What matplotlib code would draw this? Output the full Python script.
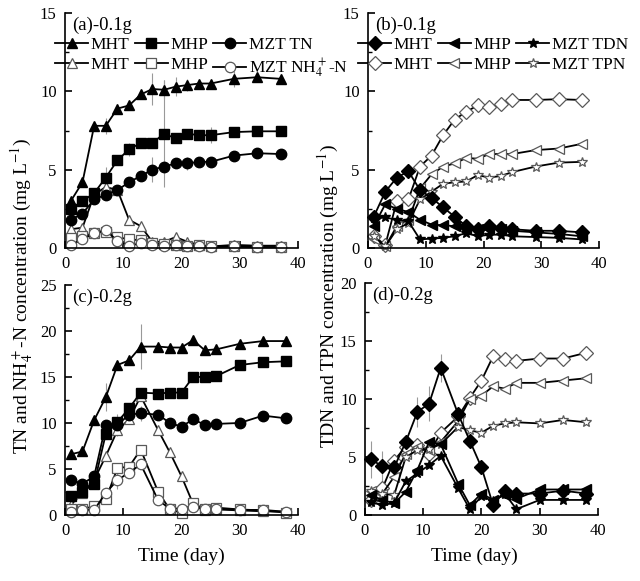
import numpy as np
import matplotlib
matplotlib.use('Agg')
from matplotlib import pyplot as plt
from matplotlib.ticker import MultipleLocator

plt.rcParams['font.family'] = ['Liberation Serif', 'DejaVu Serif']
plt.rcParams['mathtext.fontset'] = 'stix'

# ---------------- DATA ----------------
# 0.1 g dose
day_01 = [1, 3, 5, 7, 9, 11, 13, 15, 17, 19, 21, 23, 25, 29, 33, 37]
a_mht_tn = [3.0, 4.2, 7.8, 7.8, 8.9, 9.1, 9.8, 10.15, 10.1, 10.3, 10.4, 10.5, 10.5, 10.8, 10.9, 10.8]
a_mhp_tn = [2.5, 3.0, 3.5, 4.5, 5.6, 6.3, 6.7, 6.7, 7.3, 7.0, 7.3, 7.2, 7.2, 7.4, 7.45, 7.45]
a_mzt_tn = [1.8, 2.2, 3.1, 3.4, 3.7, 4.2, 4.6, 5.0, 5.2, 5.4, 5.4, 5.5, 5.5, 5.9, 6.05, 6.0]
a_mht_nh4 = [1.2, 1.3, 3.4, 3.9, 3.7, 1.8, 1.4, 0.4, 0.4, 0.7, 0.4, 0.2, 0.1, 0.2, 0.15, 0.15]
a_mhp_nh4 = [0.65, 0.75, 0.95, 1.05, 0.7, 0.55, 0.5, 0.3, 0.25, 0.2, 0.15, 0.2, 0.1, 0.1, 0.06, 0.06]
a_mzt_nh4 = [0.2, 0.55, 0.95, 1.15, 0.45, 0.15, 0.3, 0.2, 0.15, 0.2, 0.1, 0.1, 0.05, 0.1, 0.05, 0.05]
a_mht_err = [0, 0, 0, 0.5, 0, 0, 0, 1.0, 0.6, 0.6, 0.4, 0, 0, 0.5, 0, 0.3]
a_mhp_err = [0, 0, 0, 0.7, 0, 0.4, 0, 0, 3.4, 0, 0, 0, 0.5, 0, 0, 0]
a_mzt_err = [0, 0, 0, 0, 0, 0, 0, 0.8, 0, 0, 0.4, 0, 0, 0, 0, 0.3]

b_mht_tdn = [2.0, 3.6, 4.5, 4.9, 3.7, 3.2, 2.6, 2.0, 1.4, 1.2, 1.4, 1.3, 1.2, 1.1, 1.1, 1.0]
b_mhp_tdn = [1.4, 2.8, 2.5, 2.3, 1.8, 1.5, 1.45, 1.4, 1.2, 1.2, 1.2, 1.2, 1.1, 1.0, 0.9, 0.75]
b_mzt_tdn = [1.9, 1.95, 1.8, 1.7, 0.55, 0.6, 0.65, 0.75, 0.95, 0.75, 0.85, 0.85, 0.75, 0.7, 0.65, 0.55]
b_mht_tpn = [0.75, 0.2, 3.0, 3.1, 5.2, 5.9, 7.2, 8.2, 8.7, 9.1, 9.0, 9.2, 9.45, 9.45, 9.5, 9.45]
b_mhp_tpn = [0.55, 0.1, 1.4, 1.8, 3.8, 4.7, 5.2, 5.4, 5.75, 5.7, 6.0, 6.0, 6.0, 6.25, 6.35, 6.65]
b_mzt_tpn = [0.75, 0.1, 1.2, 1.6, 3.1, 3.6, 4.1, 4.2, 4.25, 4.65, 4.5, 4.6, 4.85, 5.2, 5.45, 5.5]

# 0.2 g dose
day_02 = [1, 3, 5, 7, 9, 11, 13, 16, 18, 20, 22, 24, 26, 30, 34, 38]
c_mht_tn = [6.6, 6.9, 10.3, 12.8, 16.3, 16.8, 18.3, 18.3, 18.2, 18.2, 19.0, 17.9, 18.0, 18.6, 18.9, 18.9]
c_mhp_tn = [2.1, 2.5, 3.4, 8.8, 10.1, 11.6, 13.3, 13.2, 13.3, 13.3, 15.0, 15.0, 15.1, 16.3, 16.6, 16.7]
c_mzt_tn = [3.8, 3.4, 4.2, 9.8, 9.8, 10.9, 11.05, 10.9, 10.0, 9.6, 10.4, 9.8, 9.9, 10.0, 10.8, 10.5]
c_mht_nh4 = [1.1, 2.4, 3.8, 6.4, 9.2, 10.4, 12.9, 9.2, 6.8, 4.2, 1.2, 0.5, 0.6, 0.5, 0.4, 0.35]
c_mhp_nh4 = [0.6, 0.6, 1.0, 1.7, 5.1, 5.25, 7.1, 2.5, 0.6, 0.25, 1.3, 0.6, 0.8, 0.6, 0.5, 0.25]
c_mzt_nh4 = [0.35, 0.55, 0.55, 2.4, 3.8, 4.6, 5.5, 1.6, 0.7, 0.7, 0.9, 0.6, 0.7, 0.55, 0.55, 0.35]
c_mht_err = [0, 0, 0, 1.5, 0, 0, 2.4, 0, 0, 0, 0, 0, 0, 0, 0.5, 0.5]
c_mzt_err = [0, 0, 0, 0, 1.2, 0, 0.8, 0, 0, 0, 0, 0, 0, 0, 0, 0]
c_mzt_nh4_err = [0, 0, 0, 0, 1.0, 0, 0, 0, 0, 0, 0, 0, 0, 0, 0, 0]

d_mht_tdn = [4.8, 4.2, 4.1, 6.3, 8.9, 9.6, 12.7, 8.7, 6.4, 4.1, 0.85, 2.1, 1.85, 1.85, 2.1, 1.85]
d_mhp_tdn = [1.7, 1.3, 1.0, 2.0, 3.9, 6.3, 6.1, 2.7, 0.85, 1.85, 1.3, 1.7, 1.4, 2.2, 2.2, 2.2]
d_mzt_tdn = [1.1, 0.85, 1.05, 2.9, 3.6, 4.3, 5.1, 2.3, 0.5, 1.6, 1.2, 1.85, 0.5, 1.3, 1.3, 1.3]
d_mht_tpn = [1.3, 2.3, 4.7, 5.9, 6.0, 5.3, 7.1, 8.5, 10.1, 11.6, 13.7, 13.5, 13.3, 13.5, 13.5, 14.0]
d_mhp_tpn = [2.1, 1.85, 3.3, 5.3, 5.9, 5.6, 6.3, 8.1, 10.0, 10.3, 11.1, 10.9, 11.4, 11.4, 11.6, 11.8]
d_mzt_tpn = [2.1, 1.85, 1.7, 5.0, 5.6, 5.7, 6.1, 7.6, 7.3, 7.1, 7.7, 7.9, 8.0, 7.9, 8.2, 8.0]
d_mht_err = [1.6, 1.3, 0, 0, 1.3, 1.5, 1.2, 0, 0, 0, 0, 0, 0, 0, 0, 0]

# ---------------- PLOTTING ----------------
fig = plt.figure(figsize=(6.4, 5.81), dpi=100)
ax_a = fig.add_axes([0.1016, 0.5731, 0.364, 0.4045])
ax_b = fig.add_axes([0.575, 0.5731, 0.361, 0.4045])
ax_c = fig.add_axes([0.1016, 0.1136, 0.364, 0.396])
ax_d = fig.add_axes([0.5703, 0.1136, 0.364, 0.399])

MS = 7.5
LW = 1.3


def draw(ax, x, y, marker, filled, err=None):
    if err is not None:
        ax.errorbar(x, y, yerr=err, fmt='none', ecolor='0.6', elinewidth=0.8, capsize=0, zorder=1)
    if filled:
        ln, = ax.plot(x, y, color='black', lw=LW, marker=marker, ms=MS,
                      mfc='black', mec='black', zorder=3, clip_on=False)
    else:
        ln, = ax.plot(x, y, color='black', lw=LW, marker=marker, ms=MS,
                      mfc='white', mec='0.35', mew=0.9, zorder=2, clip_on=False)
    return ln


def style(ax, ymax, ystep, title):
    ax.set_xlim(0, 40)
    ax.set_ylim(0, ymax)
    ax.xaxis.set_major_locator(MultipleLocator(10))
    ax.yaxis.set_major_locator(MultipleLocator(ystep))
    ax.yaxis.set_minor_locator(MultipleLocator(ystep / 2))
    for s in ['top', 'right']:
        ax.spines[s].set_visible(False)
    for s in ['left', 'bottom']:
        ax.spines[s].set_linewidth(1.2)
    ax.tick_params(which='major', direction='in', length=5, width=1.2, labelsize=12, pad=6)
    ax.tick_params(which='minor', direction='in', length=3, width=1.0)
    ax.text(0.03, 0.985, title, transform=ax.transAxes, ha='left', va='top', fontsize=13.5)


def legend(ax, handles, labels):
    ax.legend(handles, labels, ncol=3, loc='upper left', bbox_to_anchor=(-0.05, 0.905),
              frameon=False, fontsize=12.5, handlelength=1.9, handletextpad=0.15,
              columnspacing=0.3, labelspacing=0.2, borderpad=0.1, borderaxespad=0)


# (a)
h1 = draw(ax_a, day_01, a_mht_tn, '^', True, a_mht_err)
h2 = draw(ax_a, day_01, a_mhp_tn, 's', True, a_mhp_err)
h3 = draw(ax_a, day_01, a_mzt_tn, 'o', True, a_mzt_err)
h4 = draw(ax_a, day_01, a_mht_nh4, '^', False)
h5 = draw(ax_a, day_01, a_mhp_nh4, 's', False)
h6 = draw(ax_a, day_01, a_mzt_nh4, 'o', False)
style(ax_a, 15, 5, '(a)-0.1g')
legend(ax_a, [h1, h4, h2, h5, h3, h6],
       ['MHT', 'MHT', 'MHP', 'MHP', 'MZT TN', 'MZT NH$_4^+$-N'])

# (b)
h1 = draw(ax_b, day_01, b_mht_tdn, 'D', True)
h2 = draw(ax_b, day_01, b_mhp_tdn, '<', True)
h3 = draw(ax_b, day_01, b_mzt_tdn, '*', True)
h4 = draw(ax_b, day_01, b_mht_tpn, 'D', False)
h5 = draw(ax_b, day_01, b_mhp_tpn, '<', False)
h6 = draw(ax_b, day_01, b_mzt_tpn, '*', False)
style(ax_b, 15, 5, '(b)-0.1g')
legend(ax_b, [h1, h4, h2, h5, h3, h6],
       ['MHT', 'MHT', 'MHP', 'MHP', 'MZT TDN', 'MZT TPN'])

# (c)
draw(ax_c, day_02, c_mht_tn, '^', True, c_mht_err)
draw(ax_c, day_02, c_mhp_tn, 's', True)
draw(ax_c, day_02, c_mzt_tn, 'o', True, c_mzt_err)
draw(ax_c, day_02, c_mht_nh4, '^', False)
draw(ax_c, day_02, c_mhp_nh4, 's', False)
draw(ax_c, day_02, c_mzt_nh4, 'o', False, c_mzt_nh4_err)
style(ax_c, 25, 5, '(c)-0.2g')

# (d)
draw(ax_d, day_02, d_mht_tdn, 'D', True, d_mht_err)
draw(ax_d, day_02, d_mhp_tdn, '<', True)
draw(ax_d, day_02, d_mzt_tdn, '*', True)
draw(ax_d, day_02, d_mht_tpn, 'D', False)
draw(ax_d, day_02, d_mhp_tpn, '<', False)
draw(ax_d, day_02, d_mzt_tpn, '*', False)
style(ax_d, 20, 5, '(d)-0.2g')

fig.text(0.035, 0.49, 'TN and NH$_4^+$-N concentration (mg L$^{-1}$)', rotation=90,
         ha='center', va='center', fontsize=14)
fig.text(0.513, 0.49, 'TDN and TPN concentration (mg L$^{-1}$)', rotation=90,
         ha='center', va='center', fontsize=14)
fig.text(0.283, 0.043, 'Time (day)', ha='center', va='center', fontsize=14)
fig.text(0.741, 0.043, 'Time (day)', ha='center', va='center', fontsize=14)

fig.savefig('out.png', dpi=100)
